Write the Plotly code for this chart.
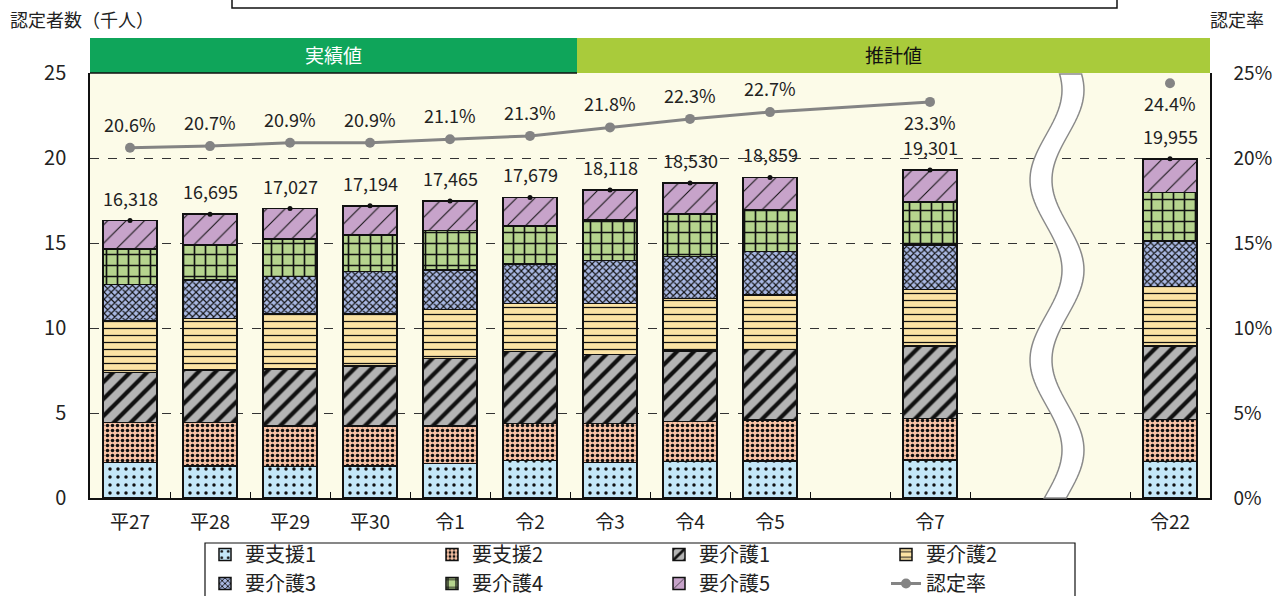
import math
import plotly.graph_objects as go

# ---------------- data ----------------
categories = ["平27", "平28", "平29", "平30", "令1", "令2", "令3", "令4", "令5", "令7", "令22"]
# placeholder slots keep the gap before 令7 and the break before 令22
axis_order = ["平27", "平28", "平29", "平30", "令1", "令2", "令3", "令4", "令5", " ", "令7", "  ", "   ", "令22"]

support1 = [2.08, 1.88, 1.84, 1.88, 2.04, 2.20, 2.08, 2.14, 2.18, 2.24, 2.14]
support2 = [2.35, 2.55, 2.41, 2.37, 2.21, 2.19, 2.31, 2.35, 2.41, 2.45, 2.49]
care1 = [2.96, 3.10, 3.34, 3.51, 3.97, 4.22, 4.06, 4.16, 4.16, 4.25, 4.31]
care2 = [3.06, 3.04, 3.23, 3.10, 2.88, 2.84, 3.00, 3.10, 3.19, 3.33, 3.49]
care3 = [2.12, 2.25, 2.20, 2.45, 2.31, 2.31, 2.51, 2.45, 2.55, 2.61, 2.69]
care4 = [2.08, 2.06, 2.22, 2.16, 2.32, 2.24, 2.39, 2.51, 2.49, 2.53, 2.84]
care5 = [1.67, 1.82, 1.79, 1.72, 1.74, 1.68, 1.77, 1.82, 1.88, 1.89, 1.99]

totals = [16318, 16695, 17027, 17194, 17465, 17679, 18118, 18530, 18859, 19301, 19955]
rates = [20.6, 20.7, 20.9, 20.9, 21.1, 21.3, 21.8, 22.3, 22.7, 23.3, 24.4]
connected_count = 10  # rate points joined by the line (令22 stands alone)

series_names = ["要支援1", "要支援2", "要介護1", "要介護2", "要介護3", "要介護4", "要介護5"]
series_values = [support1, support2, care1, care2, care3, care4, care5]

y_ticks = [0, 5, 10, 15, 20, 25]
y2_tick_labels = ["0%", "5%", "10%", "15%", "20%", "25%"]

# ---------------- styles ----------------
colors = ["#C4E7F8", "#F8C2A4", "#B4B4B4", "#FCE3A4", "#A9B8E3", "#B6D48E", "#C7A3CA"]
patterns = [
    dict(shape=".", size=8, solidity=0.15),
    dict(shape=".", size=5, solidity=0.4),
    dict(shape="/", size=12, solidity=0.35),
    dict(shape="-", size=7, solidity=0.18),
    dict(shape="x", size=5, solidity=0.4),
    dict(shape="+", size=11, solidity=0.28),
    dict(shape="/", size=13, solidity=0.08),
]
FONT = "Noto Sans CJK JP"
TXT = "#222222"

fig = go.Figure()

for name, vals, col, pat in zip(series_names, series_values, colors, patterns):
    fig.add_trace(go.Bar(
        name=name, x=categories, y=vals, width=0.675,
        marker=dict(color=col, line=dict(color="#111111", width=1.5),
                    pattern=dict(fgcolor="#111111", bgcolor=col, fillmode="replace", **pat)),
        hoverinfo="skip",
    ))

# dots at the tops of the bars
fig.add_trace(go.Scatter(
    x=categories, y=[t / 1000 for t in totals], mode="markers",
    marker=dict(color="#111111", size=5), showlegend=False, hoverinfo="skip",
))

# certification rate
fig.add_trace(go.Scatter(
    name="認定率", x=categories[:connected_count], y=rates[:connected_count],
    mode="lines+markers", yaxis="y2",
    line=dict(color="#848484", width=3),
    marker=dict(color="#848484", size=10),
))
fig.add_trace(go.Scatter(
    x=categories[connected_count:], y=rates[connected_count:],
    mode="markers", yaxis="y2", showlegend=False,
    marker=dict(color="#848484", size=10),
))

annotations = []
for c, t in zip(categories, totals):
    annotations.append(dict(x=c, y=t / 1000, xref="x", yref="y", text=f"{t:,}",
                            showarrow=False, yshift=23, font=dict(size=18, color=TXT, family=FONT)))
for i, (c, r) in enumerate(zip(categories, rates)):
    below = i >= connected_count - 1
    annotations.append(dict(x=c, y=r, xref="x", yref="y2", text=f"{r:.1f}%",
                            showarrow=False, yshift=-20 if below else 24,
                            font=dict(size=18, color=TXT, family=FONT)))

# axis titles and header labels
annotations += [
    dict(x=-0.073, y=1.127, xref="paper", yref="paper", text="認定者数（千人）", showarrow=False,
         xanchor="left", yanchor="middle", font=dict(size=18, color=TXT, family=FONT)),
    dict(x=0.998, y=1.127, xref="paper", yref="paper", text="認定率", showarrow=False,
         xanchor="left", yanchor="middle", font=dict(size=18, color=TXT, family=FONT)),
    dict(x=0.2175, y=1.043, xref="paper", yref="paper", text="実績値", showarrow=False,
         xanchor="center", yanchor="middle", font=dict(size=19, color="white", family=FONT)),
    dict(x=0.7175, y=1.043, xref="paper", yref="paper", text="推計値", showarrow=False,
         xanchor="center", yanchor="middle", font=dict(size=19, color="#111111", family=FONT)),
]

# wave break (decoration), paper coordinates
L, R, T, B = 90, 1210, 73, 498
def px(xp):
    return (xp - L) / (R - L)
def py(yp):
    return (B - yp) / (B - T)
ys = [74 + k * 4 for k in range(0, 107)] + [498]
center = [1057 + 16 * math.cos(2 * math.pi * (y - 270) / 180) for y in ys]
left_pts = [(px(cx - 11), py(y)) for cx, y in zip(center, ys)]
right_pts = [(px(cx + 11), py(y)) for cx, y in zip(center, ys)][::-1]
pts = left_pts + right_pts
wave_path = "M " + " L ".join(f"{a:.5f},{b:.5f}" for a, b in pts) + " Z"

shapes = [
    dict(type="rect", xref="paper", yref="paper", x0=0, x1=px(577), y0=1.0, y1=py(38),
         fillcolor="#0FA55A", line=dict(width=0), layer="below"),
    dict(type="rect", xref="paper", yref="paper", x0=px(577), x1=1, y0=1.0, y1=py(38),
         fillcolor="#A9CB3B", line=dict(width=0), layer="below"),
    dict(type="line", xref="paper", yref="paper", x0=0, x1=px(577), y0=1.0, y1=1.0,
         line=dict(color="#111111", width=1.5)),
    dict(type="path", xref="paper", yref="paper", path=wave_path,
         fillcolor="white", line=dict(color="#8A8A8A", width=1.5), layer="above"),
    # bottom edge of the box clipped at the top of the image
    dict(type="rect", xref="paper", yref="paper", x0=px(232), x1=px(1117), y0=py(8), y1=py(-20),
         fillcolor="white", line=dict(color="#111111", width=1.5), layer="below"),
    # legend frame
    dict(type="rect", xref="paper", yref="paper", x0=px(205), x1=px(1075), y0=py(610), y1=py(543),
         fillcolor="white", line=dict(color="#111111", width=1.2), layer="below"),
]

fig.update_layout(
    width=1285, height=596,
    margin=dict(l=90, r=75, t=73, b=98, autoexpand=False),
    paper_bgcolor="white", plot_bgcolor="#FCFBE8",
    barmode="stack", bargap=0.325,
    font=dict(family=FONT, size=18, color=TXT),
    xaxis=dict(type="category", categoryorder="array", categoryarray=axis_order,
               range=[-0.5, len(axis_order) - 0.5],
               showline=True, linecolor="#111111", linewidth=2,
               ticks="inside", tickson="boundaries", ticklen=6, tickcolor="#111111",
               tickfont=dict(size=19, color=TXT), showgrid=False, ticklabelstandoff=6),
    yaxis=dict(range=[0, 25], tickvals=y_ticks, showline=True,
               linecolor="#111111", linewidth=1.5, showgrid=True, gridcolor="#333333",
               griddash="dash", gridwidth=1, zeroline=False, ticks="",
               tickfont=dict(size=20, color=TXT), ticklabelstandoff=18),
    yaxis2=dict(range=[0, 25], tickvals=y_ticks, ticktext=y2_tick_labels,
                overlaying="y", side="right", showline=True, linecolor="#111111", linewidth=1.5,
                showgrid=False, zeroline=False, ticks="",
                tickfont=dict(size=19, color=TXT), ticklabelstandoff=18),
    legend=dict(orientation="h", x=px(205), y=py(535), xanchor="left", yanchor="top",
                borderwidth=0, bgcolor="rgba(0,0,0,0)",
                font=dict(size=20, color=TXT, family=FONT), traceorder="normal",
                entrywidth=182, tracegroupgap=0),
    annotations=annotations,
    shapes=shapes,
    showlegend=True,
)

fig.write_html("out.html", config={"displayModeBar": False},
               post_script="document.body.style.margin='0';document.body.style.overflow='hidden';")
